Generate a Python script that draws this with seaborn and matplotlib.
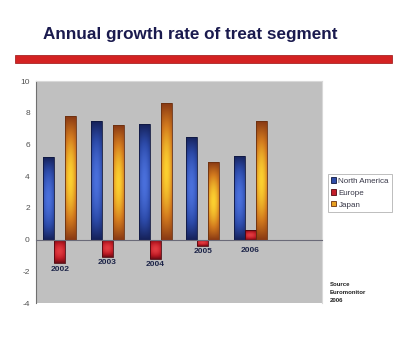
import numpy as np
import pandas as pd
import matplotlib
matplotlib.use("Agg")
import matplotlib.pyplot as plt
from matplotlib.colors import LinearSegmentedColormap
from matplotlib.patches import Rectangle, Patch
import seaborn as sns

years = ["2002", "2003", "2004", "2005", "2006"]
north_america = [5.2, 7.5, 7.3, 6.5, 5.3]
europe = [-1.5, -1.1, -1.2, -0.4, 0.6]
japan = [7.8, 7.2, 8.6, 4.9, 7.5]
series = ["North America", "Europe", "Japan"]
yticks = [-4, -2, 0, 2, 4, 6, 8, 10]
title = "Annual growth rate of treat segment"
source_lines = ["Source", "Euromonitor", "2006"]

df = pd.DataFrame({
    "year": years * 3,
    "series": [series[0]] * 5 + [series[1]] * 5 + [series[2]] * 5,
    "value": north_america + europe + japan,
})

base = {"North America": "#2f4da8", "Europe": "#c41e2a", "Japan": "#e8a020"}
grads = {
    "North America": ["#16225a", "#2c4aa8", "#4a70dc"],
    "Europe": ["#6a0c14", "#b81822", "#e23a40"],
    "Japan": ["#8a3a14", "#d27a1e", "#fcd030"],
}
edges = {"North America": "#101840", "Europe": "#500810", "Japan": "#6a3010"}

sns.set_theme(style="white")
plt.rcParams["font.family"] = ["Liberation Sans", "DejaVu Sans"]

fig = plt.figure(figsize=(4.0, 3.53), dpi=100)
fig.patch.set_facecolor("white")

# title and red rule
fig.text(43 / 400, 1 - 39 / 353, title, fontsize=12.3, fontweight="bold",
         color="#1a1a4e", ha="left", va="baseline")
fig.add_artist(Rectangle((15 / 400, 1 - 63 / 353), 377 / 400, 8 / 353,
                         transform=fig.transFigure, facecolor="#d42222",
                         edgecolor="#9a1010", linewidth=0.5))

ax = fig.add_axes([36 / 400, 1 - 303 / 353, 286 / 400, 222 / 353])
ax.set_facecolor("#c0c0c0")

sns.barplot(data=df, x="year", y="value", hue="series", order=years,
            hue_order=series, palette=base, width=0.69, ax=ax,
            legend=False, errorbar=None, saturation=1)

# apply gradients
n = len(years)
for i, patch in enumerate(ax.patches):
    s = series[i // n]
    cmap = LinearSegmentedColormap.from_list(s, grads[s])
    x, y = patch.get_x(), patch.get_y()
    w, h = patch.get_width(), patch.get_height()
    u = np.linspace(0, 1, 40)
    v = np.linspace(0, 1, 80)
    U, V = np.meshgrid(u, v)
    t = (1 - np.abs(2 * V - 1) ** 1.8) * (0.6 + 0.4 * (1 - np.abs(2 * U - 1) ** 2))
    y0, y1 = min(y, y + h), max(y, y + h)
    im = ax.imshow(t, cmap=cmap, vmin=0, vmax=1, extent=[x, x + w, y0, y1],
                   aspect="auto", origin="lower", zorder=1.5, interpolation="bilinear")
    im.set_clip_path(patch)
    patch.set_facecolor("none")
    patch.set_edgecolor(edges[s])
    patch.set_linewidth(0.6)
    patch.set_zorder(2)

ax.set_xlim(-0.5, 5.5)
ax.set_ylim(-4, 10)
ax.set_yticks(yticks)
ax.set_yticklabels([str(v) for v in yticks], fontsize=6, color="#505050")
ax.set_xticks([k + 0.5 for k in range(n)])
ax.set_xticklabels([])
ax.set_xlabel("")
ax.set_ylabel("")

ax.spines["bottom"].set_position(("data", 0))
ax.spines["bottom"].set_color("#6a6a78")
ax.spines["bottom"].set_linewidth(0.8)
ax.spines["bottom"].set_zorder(3)
ax.spines["left"].set_color("#707070")
ax.spines["left"].set_linewidth(0.8)
ax.spines["top"].set_color("#d8d8d8")
ax.spines["right"].set_color("#d8d8d8")
ax.spines["top"].set_linewidth(0.8)
ax.spines["right"].set_linewidth(0.8)
ax.tick_params(axis="x", direction="out", length=2, width=0.6, color="#6a6a78", pad=0)
ax.tick_params(axis="y", direction="out", length=3, width=0.6, color="#707070", pad=1.5)

# year labels under the bars
for k, yr in enumerate(years):
    ytop = min(europe[k], -0.35) - 0.15
    ax.text(k, ytop, yr, ha="center", va="top", fontsize=6,
            fontweight="bold", color="#1c2448")

handles = [Patch(facecolor=base[s], edgecolor=edges[s], linewidth=0.6) for s in series]
leg = fig.legend(handles, series, loc="upper left",
                 bbox_to_anchor=(328 / 400, 1 - 174 / 353), fontsize=5.8,
                 frameon=True, fancybox=False, handlelength=0.65, handleheight=0.65,
                 handletextpad=0.25, borderpad=0.4, labelspacing=0.55,
                 borderaxespad=0)
leg.get_frame().set_edgecolor("#a0a0a0")
leg.get_frame().set_linewidth(0.6)
leg.get_frame().set_facecolor("white")
for t_ in leg.get_texts():
    t_.set_color("#383848")

for j, line in enumerate(source_lines):
    fig.text(330 / 400, 1 - (285 + j * 7.5) / 353, line, fontsize=4.3,
             fontweight="bold", color="#202020", ha="left", va="center")

fig.savefig("out.png", dpi=100)
